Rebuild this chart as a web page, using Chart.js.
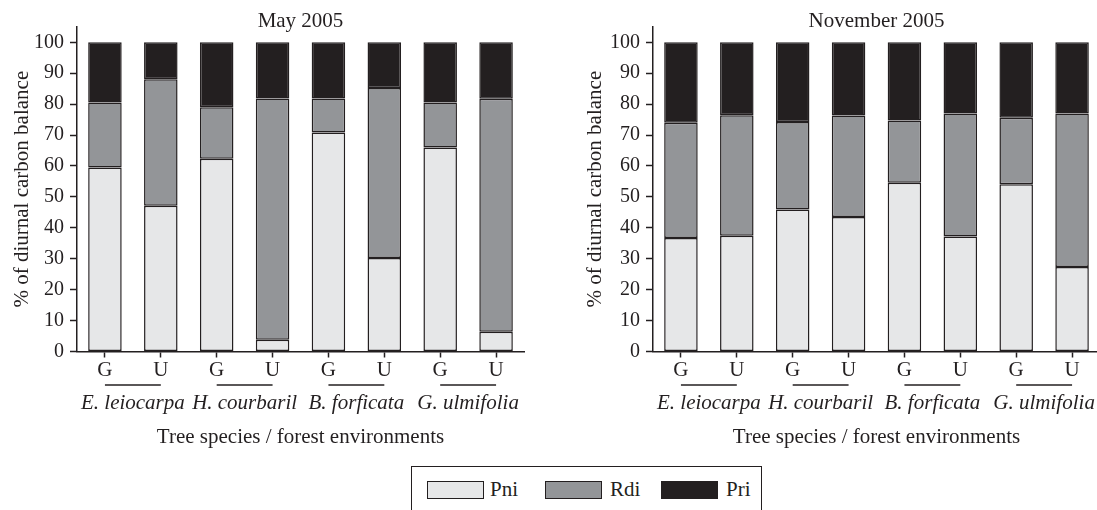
<!DOCTYPE html>
<html>
<head>
<meta charset="utf-8">
<script src="https://cdn.jsdelivr.net/npm/chart.js@4.4.1/dist/chart.umd.min.js"></script>
<style>
  html, body { margin: 0; padding: 0; background: #fff; overflow: hidden; }
  body { width: 1097px; height: 510px; position: relative; font-family: "Liberation Serif", serif; color: #231f20; }
  .panel { position: absolute; top: 0; height: 460px; }
  #leftPanel { left: 0; width: 560px; }
  #rightPanel { left: 576px; width: 528px; }
  #legend { position: absolute; left: 411px; top: 466px; width: 351px; height: 46px; border: 1.5px solid #231f20; box-sizing: border-box; }
  .item { position: absolute; top: 14px; height: 18px; }
  .swatch { position: absolute; top: 0; width: 57px; height: 18px; border: 1.5px solid #231f20; box-sizing: border-box; }
  .label { position: absolute; top: -5px; font-size: 21px; line-height: 26px; white-space: nowrap; }
</style>
</head>
<body>
<div id="leftPanel" class="panel"><canvas id="mayChart"></canvas></div>
<div id="rightPanel" class="panel"><canvas id="novChart"></canvas></div>
<div id="legend"></div>
<script>
// Forest environment under each species (G / U)
const CATEGORIES = ['G', 'U', 'G', 'U', 'G', 'U', 'G', 'U'];
const SPECIES = ['E. leiocarpa', 'H. courbaril', 'B. forficata', 'G. ulmifolia'];
const SERIES_NAMES = ['Pni', 'Rdi', 'Pri'];
const Y_TICK_STEP = 5;

// May 2005: share of the diurnal carbon balance (%)
const mayPni = [59.5, 47.1, 62.3, 3.8, 70.8, 30.2, 66.0, 6.4];
const mayRdi = [21.0, 40.9, 16.7, 78.0, 11.0, 55.0, 14.5, 75.3];
const mayPri = [19.5, 12.0, 21.0, 18.2, 18.2, 14.8, 19.5, 18.3];

// November 2005
const novPni = [36.7, 37.4, 45.9, 43.5, 54.6, 37.2, 54.1, 27.3];
const novRdi = [37.3, 39.0, 28.3, 32.8, 20.1, 39.8, 21.5, 49.7];
const novPri = [26.0, 23.6, 25.8, 23.7, 25.3, 23.0, 24.4, 23.0];

const INK = '#231f20';
const FILLS = ['#e6e7e8', '#939598', '#231f20'];
const FONT = '"Liberation Serif", serif';

Chart.defaults.font.family = FONT;
Chart.defaults.color = INK;

// Species names with their G–U underline, plus the short minor ticks on the y axis
const pairDecor = {
  id: 'pairDecor',
  afterDraw(chart) {
    const { ctx, chartArea, scales: { x, y } } = chart;
    ctx.save();
    ctx.strokeStyle = INK;
    ctx.lineWidth = 1.5;
    y.ticks.forEach(t => {
      if (t.value % 10 !== 0) {
        const py = Math.round(y.getPixelForValue(t.value)) + 0.5;
        ctx.beginPath();
        ctx.moveTo(chartArea.left - 4, py);
        ctx.lineTo(chartArea.left, py);
        ctx.stroke();
      }
    });
    ctx.font = 'italic 21px ' + FONT;
    ctx.fillStyle = INK;
    ctx.textAlign = 'center';
    ctx.textBaseline = 'middle';
    SPECIES.forEach((name, i) => {
      const xa = x.getPixelForValue(2 * i);
      const xb = x.getPixelForValue(2 * i + 1);
      const ly = chartArea.bottom + 33.5;
      ctx.beginPath();
      ctx.moveTo(xa, ly);
      ctx.lineTo(xb, ly);
      ctx.stroke();
      ctx.fillText(name, (xa + xb) / 2, chartArea.bottom + 51.5);
    });
    ctx.restore();
  }
};

function makeChart(canvasId, title, pni, rdi, pri, pad) {
  const values = [pni, rdi, pri];
  return new Chart(document.getElementById(canvasId), {
    type: 'bar',
    data: {
      labels: CATEGORIES,
      datasets: SERIES_NAMES.map((name, i) => ({
        label: name,
        data: values[i],
        backgroundColor: FILLS[i],
        borderColor: INK,
        borderWidth: 1.5,
        borderSkipped: false,
        barPercentage: 0.6,
        categoryPercentage: 1.0
      }))
    },
    options: {
      responsive: true,
      maintainAspectRatio: false,
      animation: false,
      layout: { padding: { left: 0, right: pad.right, top: 0, bottom: 0 } },
      plugins: {
        legend: { display: false },
        tooltip: { enabled: false },
        title: {
          display: true,
          fullSize: false,
          text: title,
          color: INK,
          font: { family: FONT, size: 21, weight: 'normal', lineHeight: 0.5 },
          padding: { top: 16.3, bottom: 0 }
        }
      },
      scales: {
        x: {
          stacked: true,
          offset: true,
          afterFit: s => { s.height = 108.5; },
          grid: { display: true, offset: false, drawOnChartArea: false, tickLength: 6, tickColor: INK, tickWidth: 1.5 },
          border: { display: true, color: INK, width: 1.5 },
          ticks: { color: INK, font: { family: FONT, size: 21, lineHeight: 1.0 }, padding: 2, maxRotation: 0, autoSkip: false },
          title: {
            display: true,
            text: 'Tree species / forest environments',
            color: INK,
            font: { family: FONT, size: 21, lineHeight: 1.2 },
            padding: { top: 0, bottom: 10.4 }
          }
        },
        y: {
          stacked: true,
          min: 0,
          max: 105,
          afterFit: s => { s.width = 77; },
          grid: {
            display: true,
            drawOnChartArea: false,
            tickLength: 7,
            tickWidth: 1.5,
            tickColor: c => (c.tick && c.tick.value % 10 === 0) ? INK : 'rgba(0,0,0,0)'
          },
          border: { display: true, color: INK, width: 1.5 },
          ticks: {
            stepSize: Y_TICK_STEP,
            maxTicksLimit: 100,
            padding: 6,
            color: INK,
            font: { family: FONT, size: 20 },
            callback: v => (v % 10 === 0 && v <= 100) ? String(v) : ''
          },
          title: {
            display: true,
            text: '% of diurnal carbon balance',
            color: INK,
            font: { family: FONT, size: 21, lineHeight: 1.2 },
            padding: { top: pad.yTitle, bottom: 0 }
          }
        }
      }
    },
    plugins: [pairDecor]
  });
}

makeChart('mayChart', 'May 2005', mayPni, mayRdi, mayPri, { right: 36, yTitle: 9.5 });
makeChart('novChart', 'November 2005', novPni, novRdi, novPri, { right: 4, yTitle: 7 });

// Legend
const legendItems = [
  { left: 15, labelLeft: 78 },
  { left: 133, labelLeft: 198 },
  { left: 249, labelLeft: 314 }
];
const legend = document.getElementById('legend');
SERIES_NAMES.forEach((name, i) => {
  const item = document.createElement('div');
  item.className = 'item';
  item.style.left = '0px';
  const sw = document.createElement('div');
  sw.className = 'swatch';
  sw.style.left = legendItems[i].left + 'px';
  sw.style.background = FILLS[i];
  const lb = document.createElement('div');
  lb.className = 'label';
  lb.style.left = legendItems[i].labelLeft + 'px';
  lb.textContent = name;
  item.appendChild(sw);
  item.appendChild(lb);
  legend.appendChild(item);
});
</script>
</body>
</html>
